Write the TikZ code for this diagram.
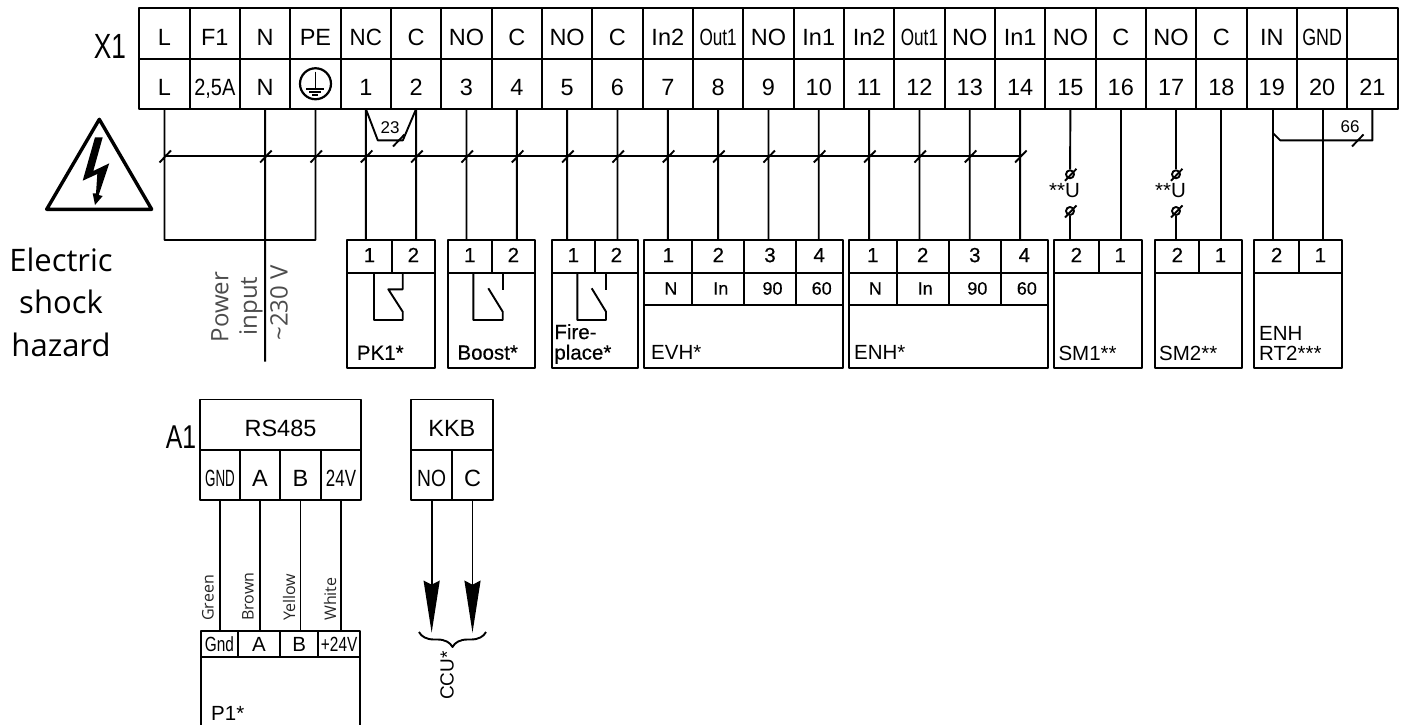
\documentclass[tikz,border=0pt]{standalone}
\usepackage{fontspec}
\setmainfont{Liberation Sans}
\newfontfamily\humanfont{Open Sans}
\newfontfamily\heavyfont[FakeBold=0.4]{Liberation Sans}
\usetikzlibrary{positioning, arrows.meta, decorations.pathreplacing}
\newcommand{\squeeze}[2]{\scalebox{#1}[1]{#2}}

\begin{document}
\begin{tikzpicture}[x=1pt, y=-1pt, line join=round,
	wire/.style={line width=1.9pt},
	tk/.style={insert path={+(-5,6.5) -- +(6.5,-5.5)}},
	tcell/.style={draw, line width=1.9pt, outer sep=0pt, inner sep=0pt, minimum width=50.33pt, minimum height=50.25pt, text height=24pt, text depth=0pt, font=\fontsize{23.5}{23.5}\selectfont},
	pinbox/.style={draw, line width=1.9pt, outer sep=0pt, inner sep=0pt, minimum height=33pt, text height=14.3pt, text depth=3pt, font=\heavyfont\fontsize{20.5}{20.5}\selectfont},
	rowbox/.style={pinbox, minimum height=32pt, font=\heavyfont\fontsize{18}{18}\selectfont, execute at begin node=\hspace*{5pt}},
	body/.style={draw, line width=1.9pt, outer sep=0pt, inner sep=0pt},
	p1box/.style={pinbox, minimum height=26.6pt, text height=14pt, text depth=0pt, font=\fontsize{20.5}{20.5}\selectfont},
	lab/.style={inner sep=0pt, align=left, font=\fontsize{20.5}{20.5}\selectfont},
	fatlab/.style={lab, font=\heavyfont\fontsize{20.5}{20.5}\selectfont},
	jump/.style={inner sep=0pt, font=\fontsize{17}{17}\selectfont},
	fusec/.style={circle, draw, line width=1.9pt, minimum size=8pt, inner sep=0pt},
	side/.style={inner sep=0pt, rotate=90, font=\humanfont\fontsize{24}{24}\selectfont, text=black!70},
	colour/.style={inner sep=0pt, rotate=90, anchor=west, font=\humanfont\fontsize{16}{16}\selectfont, text=black!85},
	big/.style={inner sep=0pt, font=\fontsize{35}{35}\selectfont}]
	\useasboundingbox (0,0) rectangle (1406,725);
	\coordinate (bus) at (0,156);

	% terminal strip
	\node[big] (x1_label) at (110,46) {\squeeze{.75}{X1}};
	\node[tcell] (t1) at (164.5,33.5) {L};
	\node[tcell, right=0pt of t1] (t2) {F1};
	\node[tcell, right=0pt of t2] (t3) {N};
	\node[tcell, right=0pt of t3] (t4) {PE};
	\node[tcell, right=0pt of t4] (t5) {\squeeze{.95}{NC}};
	\node[tcell, right=0pt of t5] (t6) {C};
	\node[tcell, right=0pt of t6] (t7) {NO};
	\node[tcell, right=0pt of t7] (t8) {C};
	\node[tcell, right=0pt of t8] (t9) {NO};
	\node[tcell, right=0pt of t9] (t10) {C};
	\node[tcell, right=0pt of t10] (t11) {In2};
	\node[tcell, right=0pt of t11] (t12) {\squeeze{.73}{Out1}};
	\node[tcell, right=0pt of t12] (t13) {NO};
	\node[tcell, right=0pt of t13] (t14) {In1};
	\node[tcell, right=0pt of t14] (t15) {In2};
	\node[tcell, right=0pt of t15] (t16) {\squeeze{.73}{Out1}};
	\node[tcell, right=0pt of t16] (t17) {NO};
	\node[tcell, right=0pt of t17] (t18) {In1};
	\node[tcell, right=0pt of t18] (t19) {NO};
	\node[tcell, right=0pt of t19] (t20) {C};
	\node[tcell, right=0pt of t20] (t21) {NO};
	\node[tcell, right=0pt of t21] (t22) {C};
	\node[tcell, right=0pt of t22] (t23) {IN};
	\node[tcell, right=0pt of t23] (t24) {\squeeze{.76}{GND}};
	\node[tcell, right=0pt of t24] (t25) {};

	\node[tcell, below=0pt of t1] (bL) {L};
	\node[tcell, below=0pt of t2] (bF) {\squeeze{.85}{2,5A}};
	\node[tcell, below=0pt of t3] (bN) {N};
	\node[tcell, below=0pt of t4] (bPE) {};
	\node[tcell, below=0pt of t5] (b1) {1};
	\node[tcell, below=0pt of t6] (b2) {2};
	\node[tcell, below=0pt of t7] (b3) {3};
	\node[tcell, below=0pt of t8] (b4) {4};
	\node[tcell, below=0pt of t9] (b5) {5};
	\node[tcell, below=0pt of t10] (b6) {6};
	\node[tcell, below=0pt of t11] (b7) {7};
	\node[tcell, below=0pt of t12] (b8) {8};
	\node[tcell, below=0pt of t13] (b9) {9};
	\node[tcell, below=0pt of t14] (b10) {10};
	\node[tcell, below=0pt of t15] (b11) {11};
	\node[tcell, below=0pt of t16] (b12) {12};
	\node[tcell, below=0pt of t17] (b13) {13};
	\node[tcell, below=0pt of t18] (b14) {14};
	\node[tcell, below=0pt of t19] (b15) {15};
	\node[tcell, below=0pt of t20] (b16) {16};
	\node[tcell, below=0pt of t21] (b17) {17};
	\node[tcell, below=0pt of t22] (b18) {18};
	\node[tcell, below=0pt of t23] (b19) {19};
	\node[tcell, below=0pt of t24] (b20) {20};
	\node[tcell, below=0pt of t25] (b21) {21};

	% earth sign
	\node[circle, draw, line width=2.2pt, minimum size=31pt, inner sep=0pt] (earth) at (bPE) {};
	\draw[line width=1.8pt] (earth.center) ++(0,-12) -- ++(0,16);
	\draw[line width=1.8pt] (earth.center) ++(-9,5) -- ++(18,0);
	\draw[line width=1.6pt] (earth.center) ++(-6,8) -- ++(12,0);
	\draw[line width=1.6pt] (earth.center) ++(-3,11) -- ++(6,0);

	% devices
	\node[pinbox, minimum width=44.4pt] (pk1a) at (369.5,256.5) {1};
	\node[pinbox, minimum width=43.3pt, right=0pt of pk1a] (pk1b) {2};
	\node[body, minimum width=87.7pt, minimum height=95pt, below right=0pt and 0pt of pk1a.south west] (pk1) {};
	\node[fatlab, above right=8pt and 9.4pt of pk1.south west] (pk1_label) {PK1*};

	\node[pinbox, minimum width=44.3pt] (boosta) at (469.85,256.5) {1};
	\node[pinbox, minimum width=42.7pt, right=0pt of boosta] (boostb) {2};
	\node[body, minimum width=87pt, minimum height=95pt, below right=0pt and 0pt of boosta.south west] (boost) {};
	\node[fatlab, above right=8pt and 9.6pt of boost.south west] (boost_label) {Boost*};

	\node[pinbox, minimum width=43.3pt] (firea) at (573.35,256.5) {1};
	\node[pinbox, minimum width=42.7pt, right=0pt of firea] (fireb) {2};
	\node[body, minimum width=86pt, minimum height=95pt, below right=0pt and 0pt of firea.south west] (fire) {};
	\node[fatlab, above right=4pt and 2.5pt of fire.south west] (fire_label) {Fire-\\place*};

	\node[pinbox, minimum width=48pt] (evh1) at (668.3,256.5) {1};
	\node[pinbox, minimum width=52pt, right=0pt of evh1] (evh2) {2};
	\node[pinbox, minimum width=51.4pt, right=0pt of evh2] (evh3) {3};
	\node[pinbox, minimum width=47pt, right=0pt of evh3] (evh4) {4};
	\node[rowbox, minimum width=48pt, below=0pt of evh1] (evhN) {N};
	\node[rowbox, minimum width=52pt, below=0pt of evh2] (evhIn) {In};
	\node[rowbox, minimum width=51.4pt, below=0pt of evh3] (evh90) {90};
	\node[rowbox, minimum width=47pt, below=0pt of evh4] (evh60) {60};
	\node[body, minimum width=198.4pt, minimum height=63pt, below right=0pt and 0pt of evhN.south west] (evh) {};
	\node[lab, above right=8pt and 6.7pt of evh.south west] (evh_label) {EVH*};

	\node[pinbox, minimum width=47.7pt] (enh1) at (872.85,256.5) {1};
	\node[pinbox, minimum width=52pt, right=0pt of enh1] (enh2) {2};
	\node[pinbox, minimum width=52.3pt, right=0pt of enh2] (enh3) {3};
	\node[pinbox, minimum width=46.7pt, right=0pt of enh3] (enh4) {4};
	\node[rowbox, minimum width=47.7pt, below=0pt of enh1] (enhN) {N};
	\node[rowbox, minimum width=52pt, below=0pt of enh2] (enhIn) {In};
	\node[rowbox, minimum width=52.3pt, below=0pt of enh3] (enh90) {90};
	\node[rowbox, minimum width=46.7pt, below=0pt of enh4] (enh60) {60};
	\node[body, minimum width=198.7pt, minimum height=63pt, below right=0pt and 0pt of enhN.south west] (enh) {};
	\node[lab, above right=8pt and 5pt of enh.south west] (enh_label) {ENH*};

	\node[pinbox, minimum width=44.7pt] (sm1a) at (1076.35,256.5) {2};
	\node[pinbox, minimum width=43pt, right=0pt of sm1a] (sm1b) {1};
	\node[body, minimum width=87.7pt, minimum height=95pt, below right=0pt and 0pt of sm1a.south west] (sm1) {};
	\node[lab, above right=7pt and 4.3pt of sm1.south west] (sm1_label) {SM1**};

	\node[pinbox, minimum width=44pt] (sm2a) at (1177.3,256.5) {2};
	\node[pinbox, minimum width=42.4pt, right=0pt of sm2a] (sm2b) {1};
	\node[body, minimum width=86.4pt, minimum height=95pt, below right=0pt and 0pt of sm2a.south west] (sm2) {};
	\node[lab, above right=7pt and 3.7pt of sm2.south west] (sm2_label) {SM2**};

	\node[pinbox, minimum width=44.7pt] (rt2a) at (1276.65,256.5) {2};
	\node[pinbox, minimum width=42.7pt, right=0pt of rt2a] (rt2b) {1};
	\node[body, minimum width=87.4pt, minimum height=95pt, below right=0pt and 0pt of rt2a.south west] (rt2) {};
	\node[lab, above right=7pt and 4.7pt of rt2.south west] (rt2_label) {ENH\\RT2***};

	% contacts
	\draw[wire] (374,273) |- (402.7,320) -- (402.7,311.7) -- (388.3,289.3) -- (402.7,289.3) -- (402.7,273);
	\draw[wire] (473.3,273) |- (502.7,320) -- (502.7,311.7) -- (488.3,288.3);
	\draw[wire] (502.7,273) -- (502.7,290);
	\draw[wire] (577.3,273) |- (606,320) -- (606,311.7) -- (591.7,288.3);
	\draw[wire] (606,273) -- (606,290);

	% wires
	\draw[wire] (bL.south |- bus) -- (b14.south |- bus);
	\draw[wire] (bL.south |- bus) [tk] (bL.south) |- (bPE.south |- pk1a.north) -- (bPE.south);
	\draw[wire] (bPE.south |- bus) [tk];
	\coordinate (feed_end) at (bN.south |- 0,361.5);
	\draw[wire] (bN.south |- bus) [tk] (bN.south) -- (feed_end);
	\draw[wire] (b1.south |- bus) [tk] (b1.south) -- (b1.south |- pk1a.north);
	\draw[wire] (b2.south |- bus) [tk] (b2.south) -- (b2.south |- pk1b.north);
	\draw[wire] (b3.south |- bus) [tk] (b3.south) -- (b3.south |- boosta.north);
	\draw[wire] (b4.south |- bus) [tk] (b4.south) -- (b4.south |- boostb.north);
	\draw[wire] (b5.south |- bus) [tk] (b5.south) -- (b5.south |- firea.north);
	\draw[wire] (b6.south |- bus) [tk] (b6.south) -- (b6.south |- fireb.north);
	\draw[wire] (b7.south |- bus) [tk] (b7.south) -- (b7.south |- evh1.north);
	\draw[wire] (b8.south |- bus) [tk] (b8.south) -- (b8.south |- evh2.north);
	\draw[wire] (b9.south |- bus) [tk] (b9.south) -- (b9.south |- evh3.north);
	\draw[wire] (b10.south |- bus) [tk] (b10.south) -- (b10.south |- evh4.north);
	\draw[wire] (b11.south |- bus) [tk] (b11.south) -- (b11.south |- enh1.north);
	\draw[wire] (b12.south |- bus) [tk] (b12.south) -- (b12.south |- enh2.north);
	\draw[wire] (b13.south |- bus) [tk] (b13.south) -- (b13.south |- enh3.north);
	\draw[wire] (b14.south |- bus) [tk] (b14.south) -- (b14.south |- enh4.north);
	\draw[wire] (b16.south) -- (b16.south |- sm1b.north);
	\draw[wire] (b18.south) -- (b18.south |- sm2b.north);
	\draw[wire] ([xshift=1.5pt]b19.south) -- ([xshift=1.5pt]b19.south |- rt2a.north);
	\draw[wire] ([xshift=1pt]b20.south) -- ([xshift=1pt]b20.south |- rt2b.north);

	% bridges
	\draw[wire] (b1.south) -- ++(12,31.5) -- ++(25,0) -- (b2.south);
	\draw[wire] (398,140) [tk];
	\node[jump] (j23) at (390,127.5) {23};
	\draw[wire] ([xshift=1.5pt]b19.south) ++(0,24.5) -- ++(7,7) -| (b21.south);
	\draw[wire] (1357,140) [tk];
	\node[jump] (j66) at (1350,126.5) {66};

	% thermal fuses
	\node[fusec] (fu1a) at (1070,174.3) {};
	\node[fusec] (fu1b) at (1070,211) {};
	\node[lab, anchor=east] (fu1_label) at (1080,191) {**U};
	\draw[wire] (b15.south) -- (fu1a);
	\draw[wire] (fu1b) -- (fu1b |- sm1a.north);
	\draw[wire] (fu1a) [tk];
	\draw[wire] (fu1b) [tk];
	\node[fusec] (fu2a) at (1176,174.3) {};
	\node[fusec] (fu2b) at (1176,211) {};
	\node[lab, anchor=east] (fu2_label) at (1186,191) {**U};
	\draw[wire] (fu2a |- b17.south) -- (fu2a);
	\draw[wire] (fu2b) -- (fu2b |- sm2a.north);
	\draw[wire] (fu2a) [tk];
	\draw[wire] (fu2b) [tk];

	% hazard sign
	\draw[line width=3.4pt] (99.3,119.3) -- (151.7,209.3) -- (46.7,209.3) -- cycle;
	\fill (102.7,137.3) -- (95,137.3) -- (82.7,180.7) -- (97.3,174) -- (96,193.5) -- (92.7,193.3) -- (95,205) -- (102.7,196) -- (98.7,195) -- (109.3,163.3) -- (93.3,171) -- cycle;
	\node[inner sep=0pt, align=center, font=\humanfont\fontsize{31}{42.5}\selectfont] (hazard_label) at (61,302) {Electric\\shock\\hazard};

	\node[side] (feed_a) at (220,307) {Power};
	\node[side] (feed_b) at (251,306) {input};
	\node[side] (feed_c) at (279,303) {\textasciitilde 230 V};

	% A1 connectors
	\node[big, font=\fontsize{33}{33}\selectfont] (a1_label) at (181,437.5) {\squeeze{.75}{A1}};
	\node[tcell, minimum width=161pt] (rs485) at (280.5,424.6) {RS485};
	\node[tcell, minimum width=40pt, below right=0pt and 0pt of rs485.south west] (a1gnd) {\squeeze{.57}{GND}};
	\node[tcell, minimum width=40pt, right=0pt of a1gnd] (a1a) {A};
	\node[tcell, minimum width=41pt, right=0pt of a1a] (a1b) {B};
	\node[tcell, minimum width=40pt, right=0pt of a1b] (a124) {\squeeze{.72}{24V}};

	\node[tcell, minimum width=81.7pt] (kkb) at (451.85,424.6) {KKB};
	\node[tcell, minimum width=41.3pt, below right=0pt and 0pt of kkb.south west] (a1no) {\squeeze{.82}{NO}};
	\node[tcell, minimum width=40.4pt, right=0pt of a1no] (a1c) {C};

	\node[p1box, minimum width=36.7pt] (p1gnd) at (219.35,644) {\squeeze{.75}{Gnd}};
	\node[p1box, minimum width=42.6pt, right=0pt of p1gnd] (p1a) {A};
	\node[p1box, minimum width=38pt, right=0pt of p1a] (p1b) {B};
	\node[p1box, minimum width=41.7pt, right=0pt of p1b] (p124) {\squeeze{.75}{+24V}};
	\draw[wire] (p1gnd.south west) -- ++(0,70);
	\draw[wire] (p124.south east) -- ++(0,70);
	\node[lab, anchor=base west] (p1_label) at (211,720) {P1*};

	\draw[wire] (a1gnd.south) -- (a1gnd.south |- p1gnd.north);
	\draw[wire] (a1a.south) -- (a1a.south |- p1a.north);
	\draw[wire] (a1b.south) -- (a1b.south |- p1b.north);
	\draw[wire] (a124.south) -- (a124.south |- p124.north);
	\node[colour] (green_label) at (208,621) {Green};
	\node[colour] (brown_label) at (248,621) {Brown};
	\node[colour] (yellow_label) at (289,621) {Yellow};
	\node[colour] (white_label) at (330,621) {White};

	\coordinate (ccu_no) at (a1no.south |- 0,632.7);
	\coordinate (ccu_c) at (a1c.south |- 0,632.7);
	\draw[wire, -{Stealth[length=52pt, width=16pt, inset=4pt]}] (a1no.south) -- (ccu_no);
	\draw[wire, -{Stealth[length=52pt, width=16pt, inset=4pt]}] (a1c.south) -- (ccu_c);
	\draw[wire, decorate, decoration={brace, mirror, amplitude=15pt}] (419,632) -- (486,632);
	\node[inner sep=0pt, rotate=90, anchor=east, font=\fontsize{19}{19}\selectfont] (ccu_label) at (447,651) {CCU*};
\end{tikzpicture}
\end{document}
